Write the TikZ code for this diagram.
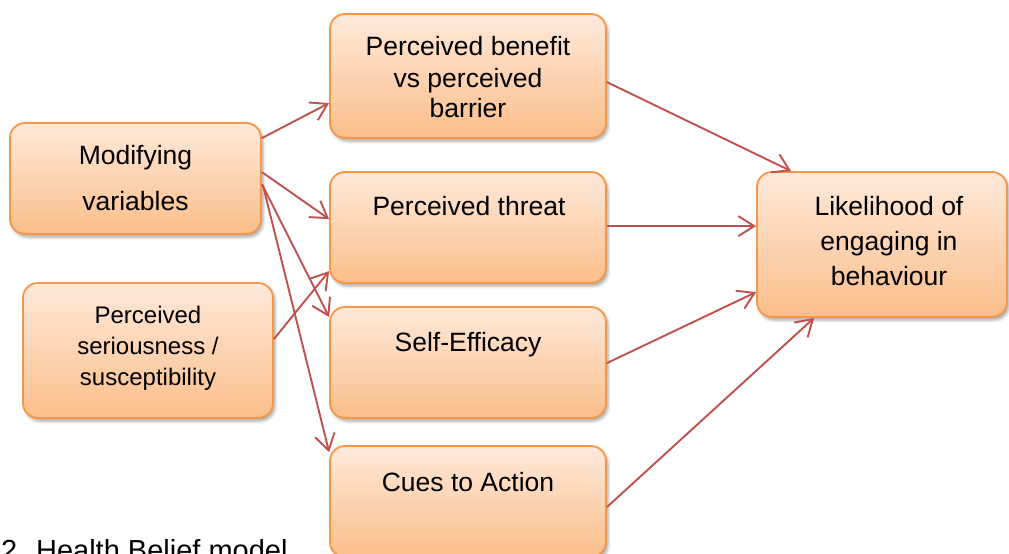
\documentclass[tikz,border=0pt]{standalone}
\usepackage{fontspec}
\setmainfont{Liberation Sans}
\usetikzlibrary{arrows.meta,calc,shadows.blur}
\definecolor{boxborder}{HTML}{F79646}
\definecolor{boxtop}{HTML}{FEE9DA}
\definecolor{boxbot}{HTML}{FBBE8A}
\definecolor{arrowred}{HTML}{C0504D}
\begin{document}
\begin{tikzpicture}[x=1pt,y=-1pt,
  box/.style={draw=boxborder, line width=1.8pt, rounded corners=15pt,
    top color=boxtop, bottom color=boxbot, inner sep=0pt,
    blur shadow={shadow xshift=2pt, shadow yshift=-3pt, shadow blur radius=3pt, shadow opacity=35}},
  txt/.style={anchor=base, inner sep=0pt, font=\fontsize{26.5}{31}\selectfont},
  stxt/.style={anchor=base, inner sep=0pt, font=\fontsize{24}{31}\selectfont},
  link/.style={draw=arrowred, line width=1.9pt, -{Straight Barb[length=16pt,width=20pt]}}]
\useasboundingbox (0,0) rectangle (1009,554);

% boxes
\node[box, minimum width=251pt, minimum height=111pt] (mod) at (135.5,178.5) {};
\node[box, minimum width=250pt, minimum height=135pt] (ser) at (148,350.5) {};
\node[box, minimum width=276pt, minimum height=124pt] (ben) at (468,76) {};
\node[box, minimum width=276pt, minimum height=111pt] (thr) at (468,227.5) {};
\node[box, minimum width=276pt, minimum height=111pt] (eff) at (468,362.5) {};
\node[box, minimum width=276pt, minimum height=111pt] (cue) at (468,501.5) {};
\node[box, minimum width=250pt, minimum height=145pt] (lik) at (882,244.5) {};

% texts
\node[txt] (mod1) at (135.5,164) {Modifying};
\node[txt] (mod2) at (135.5,210) {variables};
\node[stxt] (ser1) at (148,323) {Perceived};
\node[stxt] (ser2) at (148,354) {seriousness /};
\node[stxt] (ser3) at (148,385) {susceptibility};
\node[txt] (ben1) at (468,55) {Perceived benefit};
\node[txt] (ben2) at (468,87) {vs perceived};
\node[txt] (ben3) at (468,117) {barrier};
\node[txt] (thr1) at (469,215) {Perceived threat};
\node[txt] (eff1) at (468,351) {Self-Efficacy};
\node[txt] (cue1) at (468,491) {Cues to Action};
\node[txt] (lik1) at (889,215) {Likelihood of};
\node[txt] (lik2) at (889,250) {engaging in};
\node[txt] (lik3) at (889,285) {behaviour};

\node[anchor=base west, inner sep=0pt, font=\fontsize{29}{34}\selectfont] (cap) at (1,560) {2. Health Belief model};

% connectors
\draw[link] ($(mod.north east)+(0,16)$) -- ($(ben.north west)+(0,90)$);
\draw[link] ($(mod.north east)+(0,50)$) -- ($(thr.north west)+(0,48)$);
\draw[link] ($(mod.north east)+(0,62)$) -- ($(eff.north west)+(0,11)$);
\draw[link] ($(mod.north east)+(1,63)$) -- ($(cue.north west)+(0,7)$);
\draw[link] ($(ser.north east)+(0,57)$) -- ($(thr.north west)+(0,100)$);
\draw[link] ($(ben.north east)+(0,69)$) -- ($(lik.north west)+(35,0)$);
\draw[link] ($(thr.north east)+(0,55)$) -- ($(lik.north west)+(0,55)$);
\draw[link] ($(eff.north east)+(0,57)$) -- ($(lik.north west)+(0,121)$);
\draw[link] ($(cue.north east)+(0,62)$) -- ($(lik.south west)+(58,0)$);
\end{tikzpicture}
\end{document}
